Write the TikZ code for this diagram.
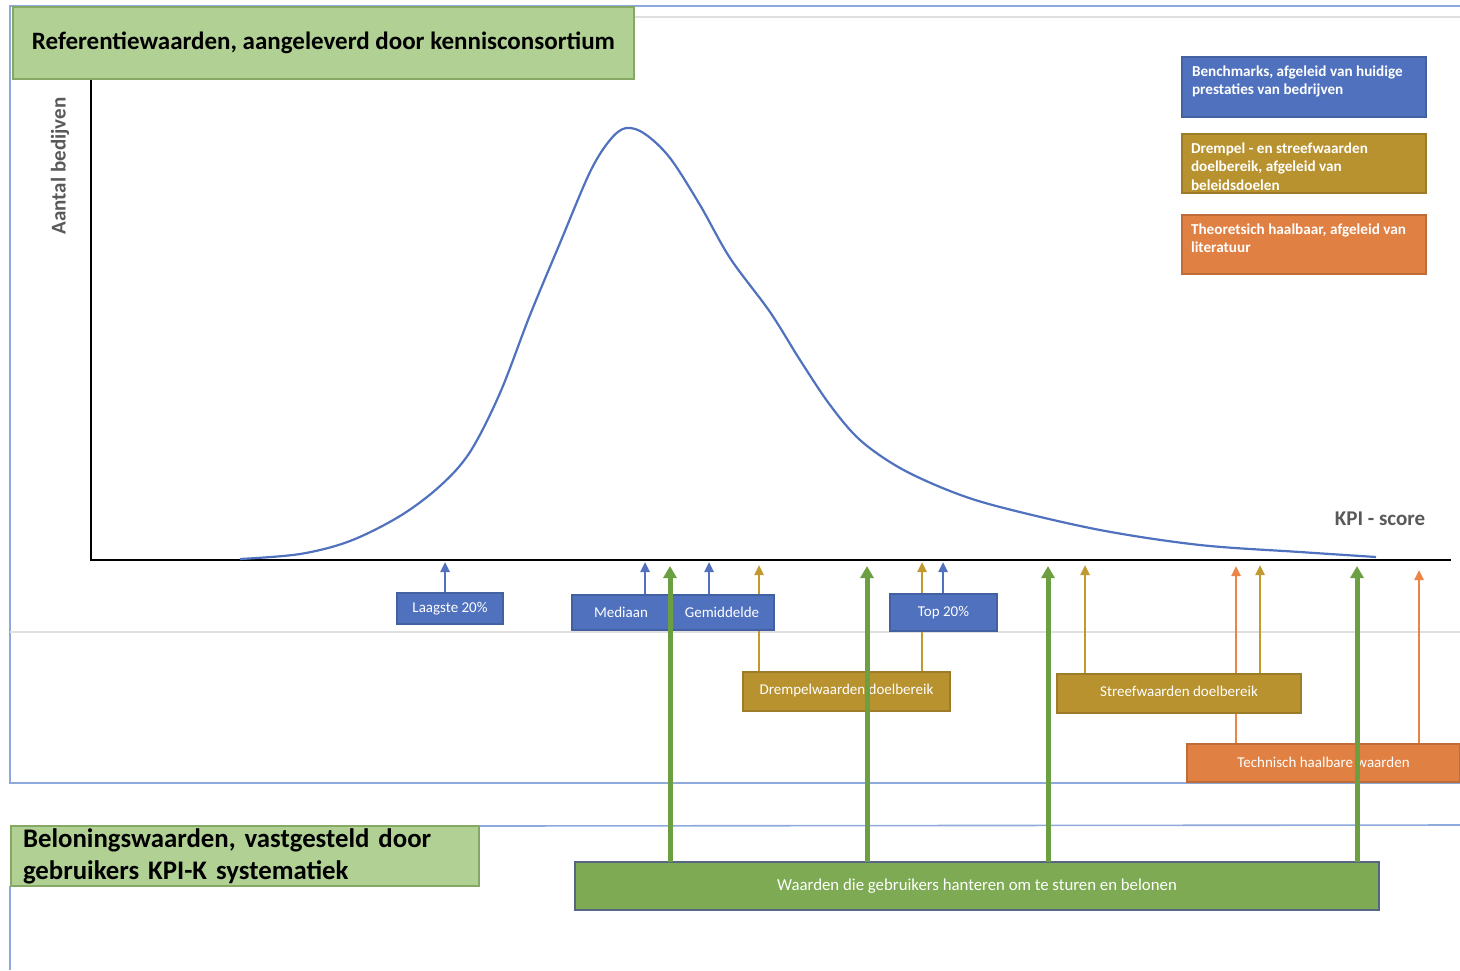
\documentclass[tikz,border=0pt]{standalone}
\usepackage{fontspec}
\setmainfont{Carlito}
\usetikzlibrary{arrows.meta,backgrounds}

\definecolor{kpiblue}{HTML}{4F71BE}
\definecolor{kpigold}{HTML}{B8922F}
\definecolor{kpiorange}{HTML}{E08042}
\definecolor{kpigreen}{HTML}{7DAA53}
\definecolor{titlegreen}{HTML}{B1D094}
\definecolor{titleedge}{HTML}{86A865}
\definecolor{frameblue}{HTML}{8EA9DB}
\definecolor{axisgray}{HTML}{595959}
\definecolor{arrowgreen}{HTML}{6C9F42}
\definecolor{arrowgold}{HTML}{C09A2E}
\definecolor{arroworange}{HTML}{EB8445}

\begin{document}
\begin{tikzpicture}
		[x=0.5pt,y=-0.5pt,
		every node/.style={inner sep=0pt,outer sep=0pt},
		titlebox/.style={fill=titlegreen,draw=titleedge,line width=1pt},
		labelbox/.style={draw=#1!85!black,fill=#1,text=white,line width=0.6pt,
			font=\fontsize{7.5}{9}\selectfont},
		legtext/.style={text=white,align=left,anchor=north west,
			font=\bfseries\fontsize{7.6}{9.1}\selectfont},
		arrowline/.style={draw=#1,line width=1.2pt,-{Triangle[width=4.5pt,length=5pt]}},
		greenarrow/.style={draw=arrowgreen,line width=2.5pt,-{Triangle[width=6.5pt,length=6pt]}},
		frame/.style={draw=frameblue,line width=0.8pt},
		thin gray/.style={draw=gray!25,line width=0.8pt}]
		\useasboundingbox (0,0) rectangle (1460,970);
		%% titles
		\node[titlebox,minimum width=310.5pt,minimum height=36pt,
			font=\bfseries\fontsize{12.5}{15}\selectfont] (refTitle) at (323.5,43)
			{Referentiewaarden, aangeleverd door kennisconsortium};
		\node[titlebox,minimum width=234pt,minimum height=30pt,text width=222pt,align=left,
			font=\bfseries\fontsize{13.4}{16}\selectfont] (belTitle) at (245,856)
			{\raisebox{-1.5pt}{Beloningswaarden, vastgesteld door}\\\raisebox{-1.5pt}{gebruikers KPI-K systematiek}};
		%% legend
		\node[labelbox=kpiblue,minimum width=122pt,minimum height=30pt] (legBench) at (1304,87) {};
		\node[labelbox=kpigold,minimum width=122pt,minimum height=29.5pt] (legDrempel) at (1304,163.5) {};
		\node[labelbox=kpiorange,minimum width=122pt,minimum height=29.5pt] (legTheo) at (1304,244.5) {};
		\node[legtext] (txtBench) at (1192,66) {Benchmarks, afgeleid van huidige\\prestaties van bedrijven};
		\node[legtext] (txtDrempel) at (1191,143) {Drempel - en streefwaarden\\doelbereik, afgeleid van\\beleidsdoelen};
		\node[legtext] (txtTheo) at (1191,224) {Theoretsich haalbaar, afgeleid van\\literatuur};
		%% axes
		\node[rotate=90,text=axisgray,font=\bfseries\fontsize{10.5}{12}\selectfont] (yLabel) at (60,166) {Aantal bedijven};
		\node[text=axisgray,font=\bfseries\fontsize{10.5}{12}\selectfont] (xLabel) at (1380,519) {KPI - score};
		\coordinate (yTop) at (91,80);
		\coordinate (origin) at (91,560);
		\coordinate (xEnd) at (1451,560);
		\draw[line width=1.3pt] (yTop) -- (origin) -- (xEnd);
		\draw[kpiblue,line width=1.1pt] plot[smooth,tension=0.55] coordinates {(240,559) (300,554) (350,541)
			(400,516) (440,486) (470,452) (500,393) (530,315) (560,243) (590,172) (610,140) (626,128)
			(645,134) (670,158) (700,205) (730,258) (770,312) (800,360) (830,405) (860,440) (900,468)
			(950,491) (1000,507) (1100,530) (1200,545) (1300,552) (1376,557)};
		%% value boxes
		\node[labelbox=kpiblue,minimum width=53pt,minimum height=15.5pt] (laagste) at (450,608.5) {Laagste 20\%};
		\node[labelbox=kpiblue,minimum width=49pt,minimum height=17.5pt] (mediaan) at (621,612.5) {Mediaan};
		\node[labelbox=kpiblue,minimum width=52pt,minimum height=17.5pt] (gemiddelde) at (722,612.5) {Gemiddelde};
		\node[labelbox=kpiblue,minimum width=53.5pt,minimum height=18.5pt] (top) at (943.5,612.5) {Top 20\%};
		\node[labelbox=kpigold,minimum width=103.5pt,minimum height=19.5pt] (drempel) at (846.5,691.5) {\raisebox{2pt}{Drempelwaarden doelbereik}};
		\node[labelbox=kpigold,minimum width=122pt,minimum height=19.5pt] (streef) at (1179,693.5) {\raisebox{2pt}{Streefwaarden doelbereik}};
		\node[labelbox=kpiorange,minimum width=136.5pt,minimum height=19pt] (techn) at (1323.5,763) {\raisebox{1pt}{Technisch haalbare waarden}};
		\node[draw=frameblue!60!black,fill=kpigreen,text=white,line width=1pt,minimum width=402pt,minimum height=24pt,
			font=\fontsize{8.4}{10}\selectfont] (waarden) at (977,886) {Waarden die gebruikers hanteren om te sturen en belonen};
		\begin{pgfonlayer}{background}
			%% frames
			\draw[frame] (1460,6) -- (10,6) -- (10,783) -- (1460,783);
			\draw[frame] (belTitle.north east) -- (1460,825);
			\draw[frame] (10,886) -- (10,970);
			\draw[thin gray] (refTitle.east |- 0,17) -- (1460,17);
			\draw[thin gray] (10,632) -- (1460,632);
			%% pointers to the axis
			\foreach \boxName/\tipName/\xpos/\ypos/\col in {laagste/tLaag/445/562/kpiblue,
				mediaan/tMed/645/562/kpiblue, gemiddelde/tGem/709/562/kpiblue, top/tTop/943/562/kpiblue,
				drempel/tDr1/759/565/arrowgold, drempel/tDr2/922/562/arrowgold,
				streef/tSt1/1085/565/arrowgold, streef/tSt2/1260/565/arrowgold,
				techn/tTe1/1236/566/arroworange, techn/tTe2/1419/570/arroworange}
			{
				\coordinate (\tipName) at (\xpos,\ypos);
				\draw[arrowline=\col] (\tipName |- \boxName.north) -- (\tipName);
			}
		\end{pgfonlayer}
		\foreach \tipName/\xpos in {tG1/670, tG2/867, tG3/1048, tG4/1357}
		{
			\coordinate (\tipName) at (\xpos,566);
			\draw[greenarrow] (\tipName |- waarden.north) -- (\tipName);
		}
\end{tikzpicture}
\end{document}
